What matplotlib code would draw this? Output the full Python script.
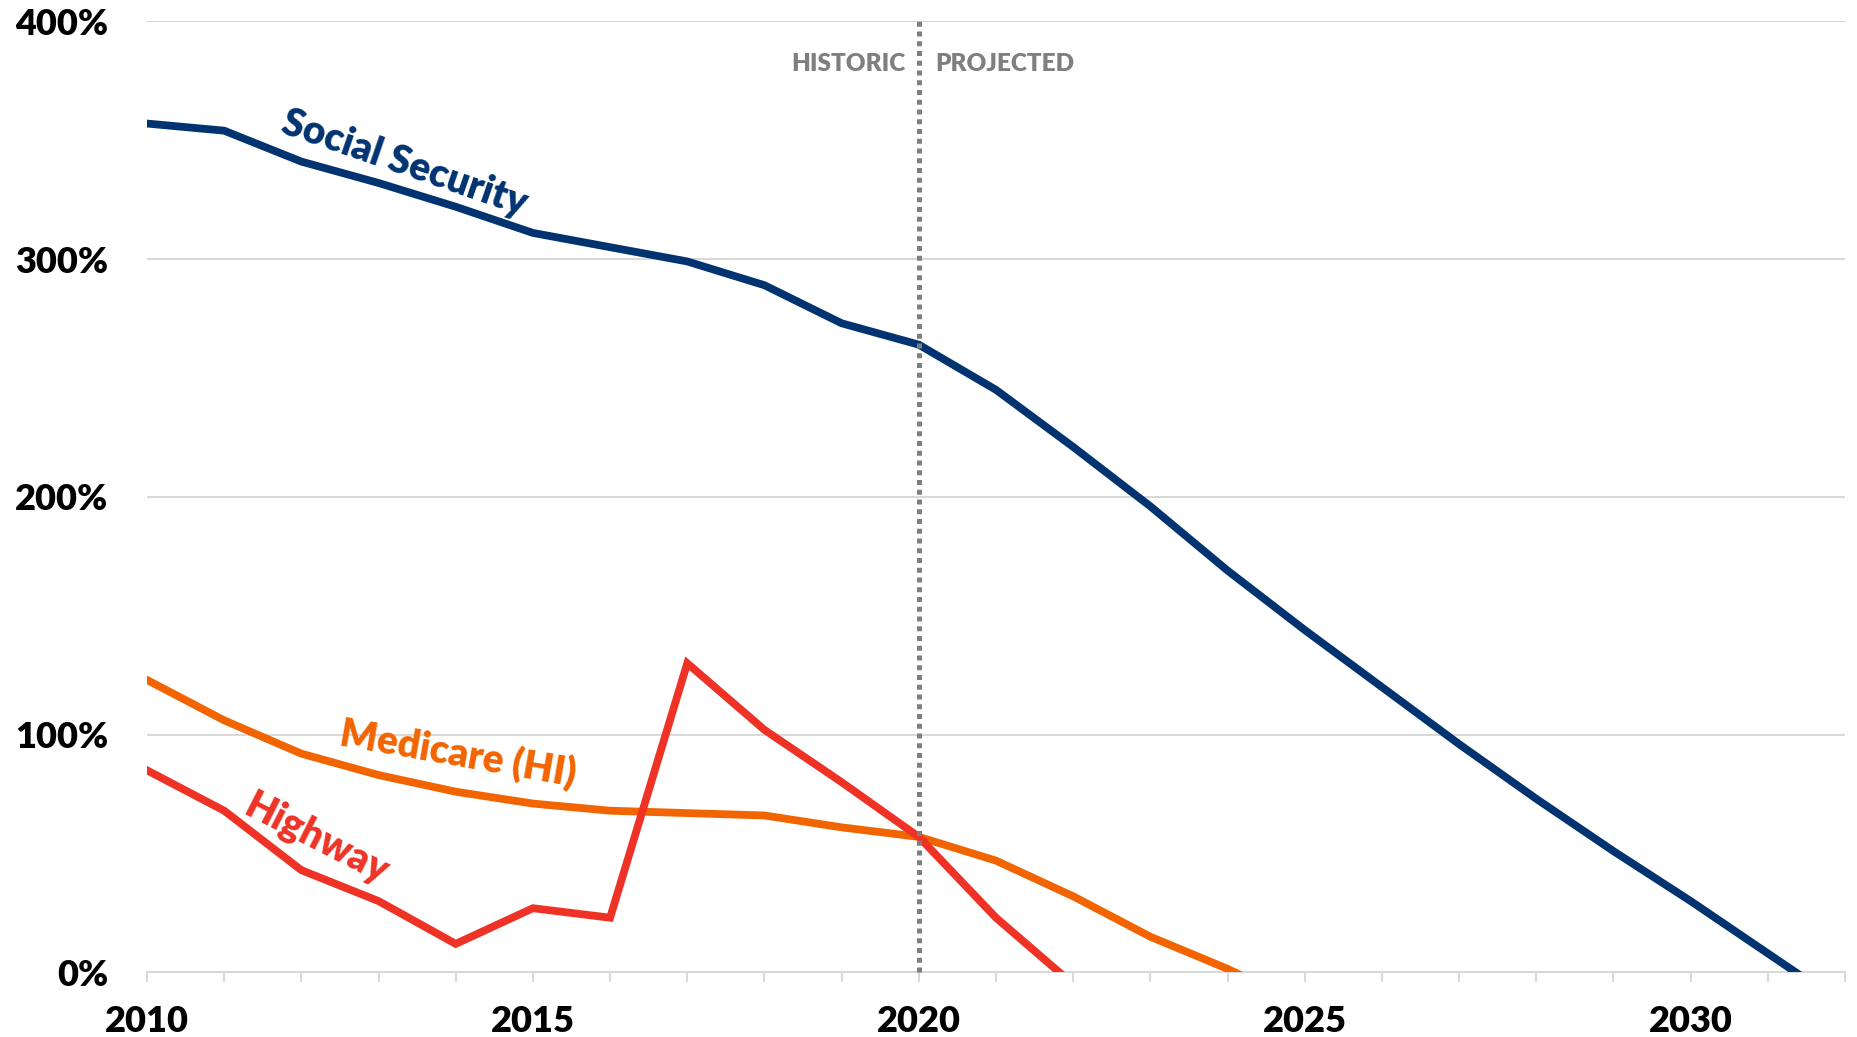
import matplotlib
matplotlib.use("Agg")
import matplotlib.pyplot as plt

plt.rcParams["font.family"] = ["Lato", "DejaVu Sans"]
plt.rcParams["font.weight"] = "bold"

# Trust fund ratio (% of annual cost), historic through 2020, projected after
years = list(range(2010, 2033))
social_security = [357, 354, 341, 332, 322, 311, 305, 299, 289, 273, 264,
                   245, 221, 196, 169, 144, 120, 96, 73, 51, 30, 8, -14]
medicare_years = list(range(2010, 2026))
medicare_hi = [123, 106, 92, 83, 76, 71, 68, 67, 66, 61, 57,
               47, 32, 15, 1.5, -14]
highway_years = list(range(2010, 2023))
highway = [85, 68, 43, 30, 12, 27, 23, 130, 102, 80, 57, 23, -5]

y_ticks = [0, 100, 200, 300, 400]
y_labels = ["0%", "100%", "200%", "300%", "400%"]
x_label_years = [2010, 2015, 2020, 2025, 2030]
split_year = 2020

NAVY = "#003370"
ORANGE = "#F26400"
RED = "#EE3326"
GRID = "#D9D9D9"
GRAY = "#7F7F7F"

fig = plt.figure(figsize=(18.57, 10.37), dpi=100)
ax = fig.add_axes([147 / 1857, 1 - 972.4 / 1037,
                   (1845 - 147) / 1857, (972.4 - 21.3) / 1037])

ax.set_xlim(2010, 2032)
ax.set_ylim(0, 400)

# Grid and axes styling
ax.set_yticks(y_ticks)
ax.set_yticklabels(y_labels)
ax.yaxis.grid(True, color=GRID, linewidth=1.5, zorder=0)
ax.set_axisbelow(True)
for side in ["top", "right", "left"]:
    ax.spines[side].set_visible(False)
ax.spines["bottom"].set_color(GRID)
ax.spines["bottom"].set_linewidth(1.5)

ax.set_xticks(years)
ax.set_xticklabels([str(y) if y in x_label_years else "" for y in years])
ax.tick_params(axis="x", length=7.5, width=1.5, color=GRID, pad=16,
               labelsize=26, labelcolor="black")
ax.tick_params(axis="y", length=0, pad=28, labelsize=26, labelcolor="black")
for lbl in ax.get_xticklabels() + ax.get_yticklabels():
    lbl.set_fontweight("heavy")

# Series
ax.plot(years, social_security, color=NAVY, lw=5.6, solid_joinstyle="miter",
        zorder=3)
ax.plot(medicare_years, medicare_hi, color=ORANGE, lw=5.6,
        solid_joinstyle="miter", zorder=3)
ax.plot(highway_years, highway, color=RED, lw=5.6, solid_joinstyle="miter",
        zorder=4)

# Historic / projected divider
ax.plot([split_year, split_year], [0, 402], color=GRAY, lw=3.6,
        dashes=(1, 0.95), clip_on=False, zorder=5)
ax.text(split_year - 0.17, 382, "HISTORIC", ha="right", va="center",
        fontsize=17.5, fontweight="heavy", color=GRAY)
ax.text(split_year + 0.21, 382, "PROJECTED", ha="left", va="center",
        fontsize=17.5, fontweight="heavy", color=GRAY)

# Series labels
ax.text(2013.34, 340.4, "Social Security", color=NAVY, fontsize=28,
        fontweight="heavy", rotation=-19, rotation_mode="anchor",
        ha="center", va="center")
ax.text(2014.03, 91.6, "Medicare (HI)", color=ORANGE, fontsize=28,
        fontweight="heavy", rotation=-10, rotation_mode="anchor",
        ha="center", va="center")
ax.text(2012.19, 56.3, "Highway", color=RED, fontsize=28,
        fontweight="heavy", rotation=-27, rotation_mode="anchor",
        ha="center", va="center")

fig.savefig("out.png", dpi=100, facecolor="white")
